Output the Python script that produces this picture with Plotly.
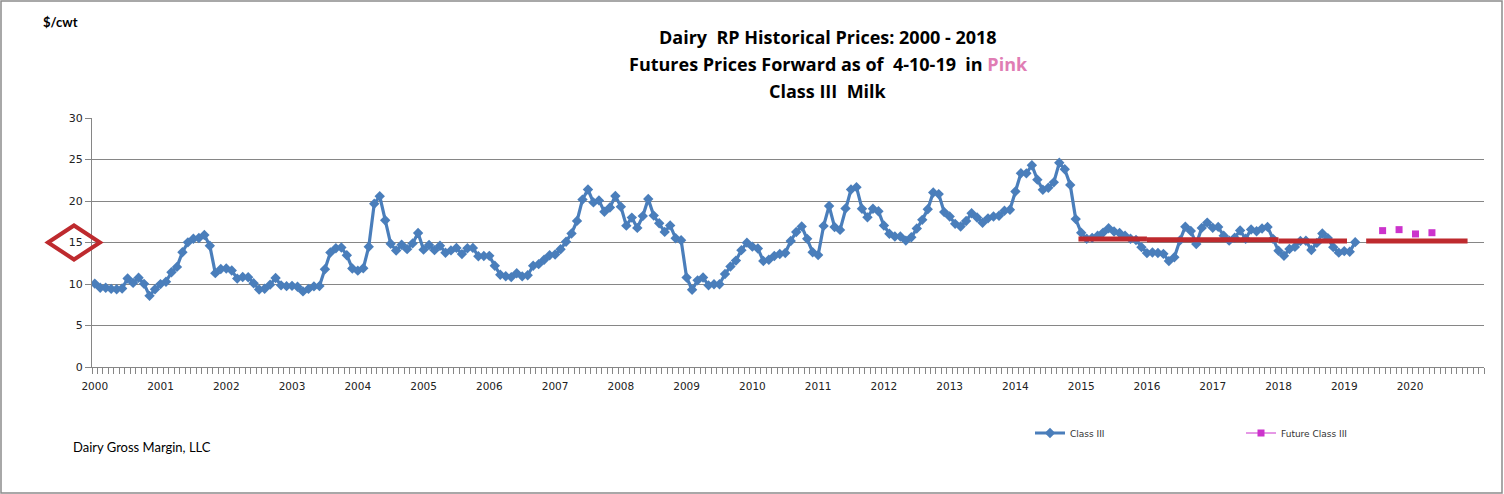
import plotly.graph_objects as go

# Class III milk price, $/cwt, monthly Jan 2000 .. Mar 2019
class_iii = [
    10.05, 9.54, 9.54, 9.41, 9.37, 9.46, 10.66, 10.13, 10.76, 10.02, 8.57, 9.37,
    9.99, 10.27, 11.42, 12.06, 13.83, 15.02, 15.46, 15.55, 15.90, 14.60, 11.31, 11.80,
    11.87, 11.63, 10.65, 10.85, 10.82, 10.09, 9.33, 9.43, 9.92, 10.72, 9.84, 9.74,
    9.78, 9.66, 9.11, 9.41, 9.71, 9.75, 11.78, 13.80, 14.30, 14.39, 13.47, 11.87,
    11.61, 11.89, 14.49, 19.66, 20.58, 17.68, 14.85, 14.04, 14.72, 14.20, 14.89, 16.14,
    14.14, 14.70, 14.08, 14.61, 13.77, 14.05, 14.35, 13.60, 14.30, 14.35, 13.35, 13.37,
    13.39, 12.20, 11.11, 10.93, 10.83, 11.29, 10.92, 11.06, 12.20, 12.39, 12.93, 13.47,
    13.56, 14.18, 15.09, 16.09, 17.60, 20.17, 21.38, 19.83, 20.07, 18.70, 19.22, 20.60,
    19.32, 17.03, 18.00, 16.76, 18.18, 20.25, 18.24, 17.32, 16.28, 17.06, 15.51, 15.28,
    10.78, 9.31, 10.44, 10.78, 9.84, 9.97, 9.97, 11.20, 12.11, 12.82, 14.08, 14.98,
    14.50, 14.28, 12.78, 12.92, 13.38, 13.62, 13.74, 15.18, 16.26, 16.94, 15.44, 13.83,
    13.48, 17.00, 19.40, 16.87, 16.52, 19.11, 21.39, 21.67, 19.07, 18.03, 19.07, 18.77,
    17.05, 16.06, 15.72, 15.72, 15.23, 15.63, 16.68, 17.73, 19.00, 21.02, 20.83, 18.66,
    18.14, 17.25, 16.93, 17.59, 18.52, 18.02, 17.38, 17.91, 18.14, 18.22, 18.83, 18.95,
    21.15, 23.35, 23.33, 24.31, 22.57, 21.36, 21.60, 22.25, 24.60, 23.82, 21.94, 17.82,
    16.18, 15.46, 15.56, 15.81, 16.19, 16.72, 16.33, 16.14, 15.82, 15.46, 15.30, 14.44,
    13.72, 13.80, 13.74, 13.63, 12.76, 13.22, 15.24, 16.91, 16.39, 14.82, 16.76, 17.40,
    16.77, 16.88, 15.81, 15.22, 15.57, 16.44, 15.45, 16.57, 16.36, 16.69, 16.88, 15.44,
    14.00, 13.40, 14.22, 14.47, 15.18, 15.21, 14.10, 14.95, 16.09, 15.53, 14.44, 13.78,
    13.96, 13.89, 15.04,
]

# futures as of 4-10-19, monthly Aug 2019 .. May 2020 (blank months = None)
future_start = 235
future_class_iii = [16.43, None, None, 16.55, None, None, 16.03, None, None, 16.18]

# red average lines (month index start, end, level)
avg_start = [179.5, 192.0, 216.0, 232.0]
avg_end = [192.0, 216.0, 228.5, 250.5]
avg_level = [15.41, 15.33, 15.18, 15.18]

years = list(range(2000, 2021))
n_months = 254

BLUE = "#4A7EBB"
RED = "#BE2A2E"
MAGENTA = "#CC33CC"
GRID = "#868686"

# plot area in pixels (left, right, top, bottom)
L, R, T, B = 92, 1484, 118, 367


def px_x(px):
    return (px - L) / (R - L)


def px_y(py):
    return (B - py) / (B - T)


months = list(range(len(class_iii)))
future_months = [future_start + i for i in range(len(future_class_iii))]

fig = go.Figure()

fig.add_trace(go.Scatter(
    x=months, y=class_iii, mode="lines+markers", name="Class III",
    line=dict(color=BLUE, width=3.2),
    marker=dict(symbol="diamond", size=8, color=BLUE),
))

for s, e, lvl in zip(avg_start, avg_end, avg_level):
    fig.add_trace(go.Scatter(
        x=[s, e], y=[lvl, lvl], mode="lines", showlegend=False,
        line=dict(color=RED, width=5), hoverinfo="skip",
    ))

fig.add_trace(go.Scatter(
    x=future_months, y=future_class_iii, mode="lines+markers", name="Future Class III",
    connectgaps=False,
    line=dict(color=MAGENTA, width=1),
    marker=dict(symbol="square", size=7, color=MAGENTA),
))

fig.update_layout(
    width=1504, height=494,
    margin=dict(l=L, r=1504 - R, t=T, b=494 - B),
    paper_bgcolor="white", plot_bgcolor="white",
    font=dict(family="DejaVu Sans", size=10, color="#333333"),
    showlegend=True,
    legend=dict(
        orientation="h", x=px_x(1030), y=px_y(433), xanchor="left", yanchor="middle",
        font=dict(family="DejaVu Sans", size=9, color="#333333"),
        entrywidth=166, entrywidthmode="pixels", bgcolor="rgba(0,0,0,0)",
    ),
)

fig.update_xaxes(
    range=[-0.5, n_months - 0.5],
    tickmode="array",
    tickvals=[12 * (y - 2000) for y in years],
    ticktext=[str(y) for y in years],
    ticks="", showgrid=False, zeroline=False,
    showline=True, linecolor=GRID, linewidth=1,
    tickfont=dict(family="DejaVu Sans", size=10.5, color="#222222"),
    ticklabelstandoff=9,
    minor=dict(tickmode="linear", tick0=-0.5, dtick=1, ticks="outside",
               ticklen=6, tickcolor=GRID, tickwidth=1, showgrid=False),
)

fig.update_yaxes(
    range=[0, 30], dtick=5,
    showgrid=True, gridcolor=GRID, gridwidth=1, zeroline=False,
    showline=True, linecolor=GRID, linewidth=1,
    ticks="outside", ticklen=6, tickcolor=GRID,
    tickfont=dict(family="DejaVu Sans", size=11, color="#222222"),
)

# titles
title_lines = [
    "Dairy&nbsp; RP Historical Prices: 2000 - 2018",
    "Futures Prices Forward as of&nbsp; 4-10-19&nbsp; in <span style='color:#E07DB4'>Pink</span>",
    "Class III&nbsp; Milk",
]
for line, py in zip(title_lines, [37, 64, 91]):
    fig.add_annotation(
        text="<b>" + line + "</b>", x=px_x(828), y=px_y(py),
        xref="paper", yref="paper", showarrow=False,
        xanchor="center", yanchor="middle",
        font=dict(family="Open Sans", size=18, color="#000000"),
    )

fig.add_annotation(
    text="<b>$/cwt</b>", x=px_x(41), y=px_y(22), xref="paper", yref="paper",
    showarrow=False, xanchor="left", yanchor="middle",
    font=dict(family="Lato", size=13, color="#000000"),
)
fig.add_annotation(
    text="Dairy Gross Margin, LLC", x=px_x(71), y=px_y(447), xref="paper", yref="paper",
    showarrow=False, xanchor="left", yanchor="middle",
    font=dict(family="Lato", size=13, color="#000000"),
)

# red diamond around the 15 tick label
cx, cy, hw, hh = 74, 242.5, 26, 17
fig.add_shape(
    type="path", xref="paper", yref="paper",
    path=(f"M {px_x(cx - hw)} {px_y(cy)} L {px_x(cx)} {px_y(cy - hh)} "
          f"L {px_x(cx + hw)} {px_y(cy)} L {px_x(cx)} {px_y(cy + hh)} Z"),
    line=dict(color=RED, width=4),
)

# outer frame
fig.add_shape(
    type="rect", xref="paper", yref="paper",
    x0=px_x(1), x1=px_x(1502), y0=px_y(493), y1=px_y(1),
    line=dict(color="#8C8C8C", width=1.5),
)

fig.write_html("out.html", config={"displayModeBar": False},
               post_script="document.body.style.margin='0';")
